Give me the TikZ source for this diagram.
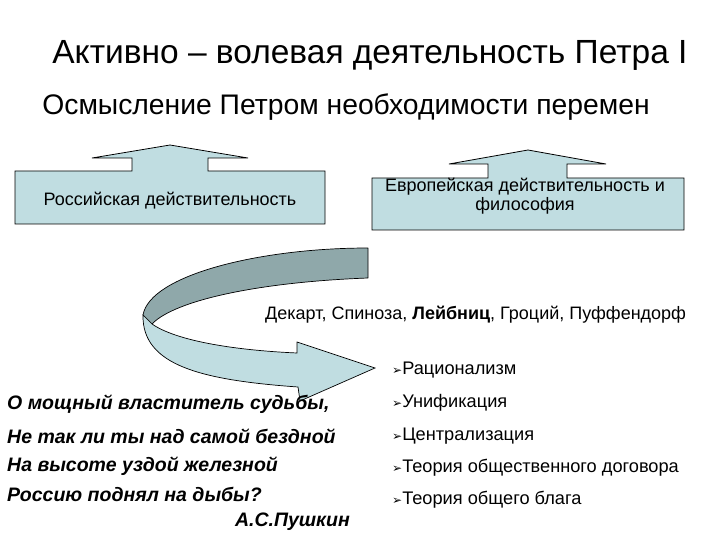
\documentclass[tikz,border=0pt]{standalone}
\usepackage{fontspec}
\setmainfont{Liberation Sans}
\newfontfamily\dejavu{DejaVu Sans}
\definecolor{boxblue}{HTML}{C0DDE1}
\definecolor{darkband}{HTML}{8FA8AA}
\newcommand{\bul}{{\dejavu\fontsize{12}{14}\selectfont ➢}}
\begin{document}
\begin{tikzpicture}[x=1pt,y=-1pt,
  outline/.style={draw=black,line width=0.8pt,fill=boxblue,line join=miter},
  boxtext/.style={font=\fontsize{18}{18.5}\selectfont,align=center,inner sep=0pt},
  listitem/.style={font=\fontsize{18.2}{22}\selectfont,anchor=west,inner sep=0pt},
  poem/.style={font=\fontsize{19.5}{22}\selectfont\bfseries\itshape,anchor=west,inner sep=0pt}]
\useasboundingbox (0,0) rectangle (720,540);
% title
\node[font=\fontsize{33.5}{38}\selectfont,inner sep=0pt] (title) at (370,55) {Активно – волевая деятельность Петра I};
\node[font=\fontsize{28.3}{32}\selectfont,inner sep=0pt] (sub) at (346,107) {Осмысление Петром необходимости перемен};
% left box with arrow
\draw[outline] (15,171)--(132,171)--(132,158)--(92,158)--(170,145)--(248,158)--(208,158)--(208,171)--(325,171)--(325,224)--(15,224)--cycle;
\node[boxtext] (rus) at (170,201) {Российская действительность};
% right box with arrow
\draw[outline] (372,178)--(488,178)--(488,164)--(449,164)--(528,150)--(606,164)--(567,164)--(567,178)--(684,178)--(684,230)--(372,230)--cycle;
\node[boxtext] (eur) at (525,196) {Европейская действительность и\\философия};
% curved ribbon arrow
\draw[draw=black,line width=0.7pt,fill=darkband,line join=round]
  (368,248) .. controls (260,248) and (150,275) .. (143,315) -- (152,324)
  .. controls (175,300) and (260,282) .. (368,278) -- cycle;
\draw[draw=black,line width=0.7pt,fill=boxblue,line join=miter]
  (143,315) .. controls (142,365) and (200,380) .. (298,387) -- (300,401) -- (375,368) -- (297,342) -- (297,353)
  .. controls (230,350) and (175,340) .. (152,324) -- cycle;
% philosophers
\node[font=\fontsize{18}{20}\selectfont,anchor=west,inner sep=0pt] (phil) at (265,315) {Декарт, Спиноза, \textbf{Лейбниц}, Гроций, Пуффендорф};
% list
\node[listitem] (l1) at (392,370) {\bul Рационализм};
\node[listitem] (l2) at (392,403) {\bul Унификация};
\node[listitem] (l3) at (392,436) {\bul Централизация};
\node[listitem] (l4) at (392,468) {\bul Теория общественного договора};
\node[listitem] (l5) at (392,500) {\bul Теория общего блага};
% poem
\node[poem] (p1) at (7,404) {О мощный властитель судьбы,};
\node[poem] (p2) at (7,436) {Не так ли ты над самой бездной};
\node[poem] (p3) at (7,466) {На высоте уздой железной};
\node[poem] (p4) at (7,494) {Россию поднял на дыбы?};
\node[poem,anchor=east] (p5) at (350,522) {А.С.Пушкин};
\end{tikzpicture}
\end{document}
